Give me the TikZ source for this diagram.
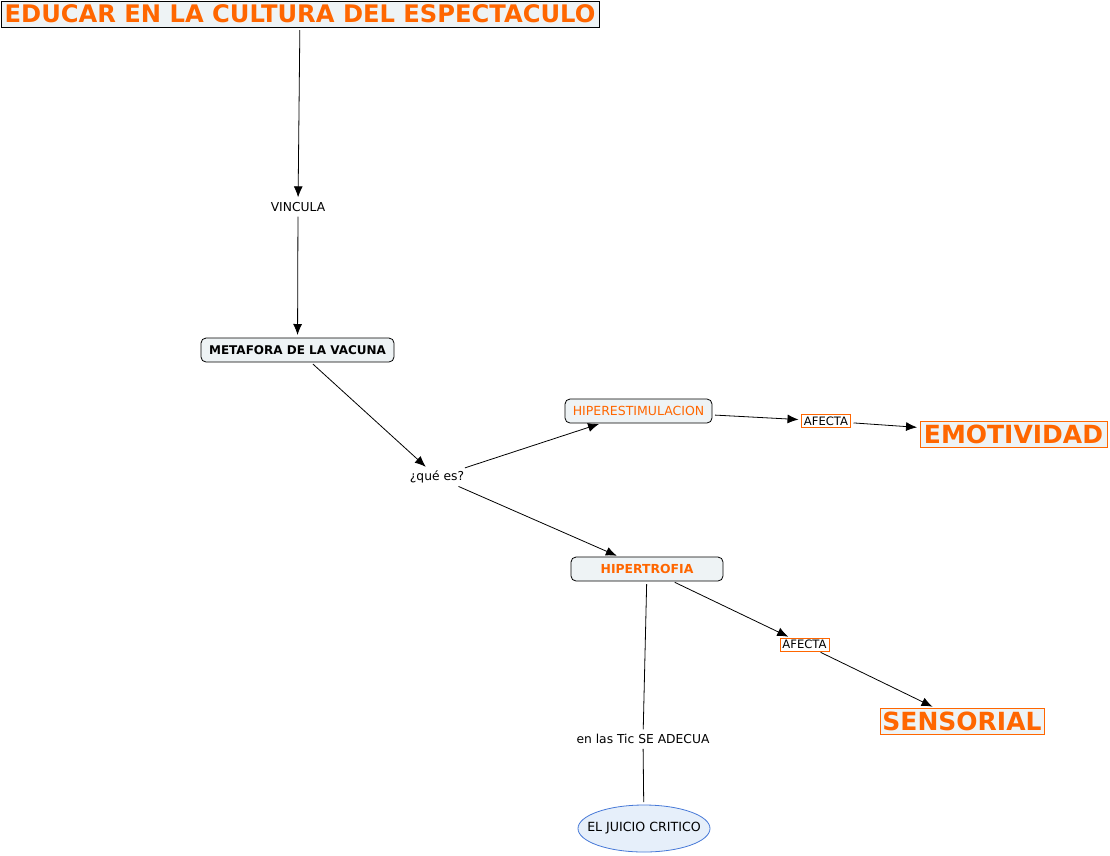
\documentclass[tikz,border=0pt]{standalone}
\usepackage{fontspec}
\setmainfont{DejaVu Sans}
\usetikzlibrary{arrows.meta,shapes.geometric}
\definecolor{org}{RGB}{255,102,0}
\definecolor{boxfill}{RGB}{238,243,245}
\definecolor{ellfill}{RGB}{230,239,250}
\definecolor{ellline}{RGB}{70,120,215}
\begin{document}
\begin{tikzpicture}[x=1pt,y=-1pt,
  every node/.style={inner sep=0pt, outer sep=0pt},
  titlebox/.style={draw=black, fill=boxfill, line width=0.8pt, text=org, font=\fontsize{24.2}{26}\selectfont\bfseries},
  concept/.style={draw=black, fill=boxfill, rounded corners=5pt, line width=0.8pt, minimum height=24pt},
  bigbox/.style={draw=org, fill=boxfill, line width=0.8pt, text=org, minimum height=26pt, font=\fontsize{25}{26}\selectfont\bfseries},
  smallbox/.style={draw=org, fill=white, line width=0.6pt, minimum height=13pt, inner xsep=1pt, font=\fontsize{11.6}{12}\selectfont},
  linklabel/.style={fill=white, inner sep=2pt, font=\fontsize{12.3}{14}\selectfont},
  ellbox/.style={ellipse, draw=ellline, fill=ellfill, line width=0.8pt, minimum width=132pt, minimum height=47pt, font=\fontsize{12.6}{13}\selectfont},
  arr/.style={-{Latex[length=11pt,width=9pt]}, line width=0.8pt, shorten >=3pt, shorten <=3pt},
  ln/.style={line width=0.8pt, shorten >=3pt, shorten <=3pt}
]
\useasboundingbox (0,0) rectangle (1110,855);
\node[titlebox, minimum width=598pt, minimum height=26pt] (title) at (300,14) {EDUCAR EN LA CULTURA DEL ESPECTACULO};
\node[linklabel] (vincula) at (298,207) {VINCULA};
\node[concept, minimum width=193pt, font=\fontsize{12}{13}\selectfont\bfseries] (meta) at (297.5,350) {METAFORA DE LA VACUNA};
\node[linklabel] (que) at (437,477) {¿qué es?};
\node[concept, minimum width=147pt, text=org, font=\fontsize{12.5}{13}\selectfont] (hiper) at (638.5,411) {HIPERESTIMULACION};
\node[smallbox, minimum width=49pt] (af1) at (826,421) {AFECTA};
\node[bigbox, minimum width=187pt] (emo) at (1013.5,434) {EMOTIVIDAD};
\node[concept, minimum width=152pt, text=org, font=\fontsize{12.4}{13}\selectfont\bfseries] (hipt) at (647,569) {HIPERTROFIA};
\node[smallbox, minimum width=49pt] (af2) at (804.5,644.5) {AFECTA};
\node[bigbox, minimum width=164pt] (sens) at (962,721) {SENSORIAL};
\node[linklabel] (tic) at (643,739) {en las Tic SE ADECUA};
\node[ellbox] (juicio) at (644,828.5) {\makebox[0pt]{EL JUICIO CRITICO}};

\draw[arr] (title) -- (vincula);
\draw[arr] (vincula) -- (meta);
\draw[arr] (meta) -- (que);
\draw[arr] (que) -- (hiper);
\draw[arr] (que) -- (hipt);
\draw[arr] (hiper) -- (af1);
\draw[arr] (af1) -- (emo);
\draw[arr] (hipt) -- (af2);
\draw[arr] (af2) -- (sens);
\draw[ln] (hipt) -- (tic);
\draw[ln] (tic) -- (juicio);
\end{tikzpicture}
\end{document}
